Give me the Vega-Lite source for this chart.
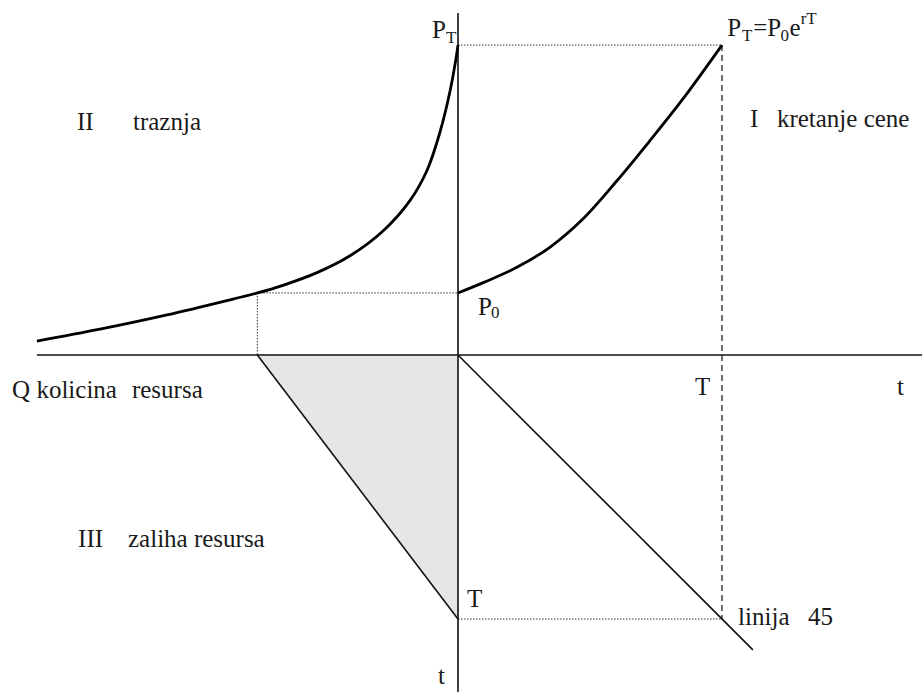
{
  "$schema": "https://vega.github.io/schema/vega-lite/v6.json",
  "width": 922,
  "height": 692,
  "autosize": {"type": "none"},
  "padding": 0,
  "background": "white",
  "config": {"view": {"stroke": null}},
  "datasets": {
    "curves": [
      {"seg": "I", "i": 0, "x": 0, "y": 2.35},
      {"seg": "I", "i": 1, "x": 0.98, "y": 2.75},
      {"seg": "I", "i": 2, "x": 2.23, "y": 3.32},
      {"seg": "I", "i": 3, "x": 3.48, "y": 4.08},
      {"seg": "I", "i": 4, "x": 4.73, "y": 5.15},
      {"seg": "I", "i": 5, "x": 6.02, "y": 6.6},
      {"seg": "I", "i": 6, "x": 7.27, "y": 8.12},
      {"seg": "I", "i": 7, "x": 8.52, "y": 9.7},
      {"seg": "I", "i": 8, "x": 10, "y": 11.74},
      {"seg": "II", "i": 0, "x": -15.95, "y": 0.53},
      {"seg": "II", "i": 1, "x": -13.56, "y": 0.98},
      {"seg": "II", "i": 2, "x": -11.02, "y": 1.52},
      {"seg": "II", "i": 3, "x": -8.52, "y": 2.12},
      {"seg": "II", "i": 4, "x": -7.6, "y": 2.35},
      {"seg": "II", "i": 5, "x": -6.63, "y": 2.64},
      {"seg": "II", "i": 6, "x": -5.34, "y": 3.12},
      {"seg": "II", "i": 7, "x": -4.09, "y": 3.76},
      {"seg": "II", "i": 8, "x": -2.84, "y": 4.7},
      {"seg": "II", "i": 9, "x": -1.82, "y": 5.85},
      {"seg": "II", "i": 10, "x": -1.17, "y": 7.0},
      {"seg": "II", "i": 11, "x": -0.68, "y": 8.45},
      {"seg": "II", "i": 12, "x": -0.3, "y": 10.0},
      {"seg": "II", "i": 13, "x": -0.08, "y": 11.2},
      {"seg": "II", "i": 14, "x": 0, "y": 11.74}
    ],
    "solid": [
      {"seg": "haxis", "i": 0, "x": -15.95, "y": 0},
      {"seg": "haxis", "i": 1, "x": 17.6, "y": 0},
      {"seg": "vaxis", "i": 0, "x": 0, "y": 12.95},
      {"seg": "vaxis", "i": 1, "x": 0, "y": -12.8},
      {"seg": "hyp", "i": 0, "x": -7.6, "y": 0},
      {"seg": "hyp", "i": 1, "x": 0, "y": -10},
      {"seg": "l45", "i": 0, "x": 0, "y": 0},
      {"seg": "l45", "i": 1, "x": 11.17, "y": -11.17}
    ],
    "dotted": [
      {"seg": "p0h", "i": 0, "x": -7.6, "y": 2.35},
      {"seg": "p0h", "i": 1, "x": 0, "y": 2.35},
      {"seg": "p0v", "i": 0, "x": -7.6, "y": 2.35},
      {"seg": "p0v", "i": 1, "x": -7.6, "y": 0},
      {"seg": "top", "i": 0, "x": 0, "y": 11.74},
      {"seg": "top", "i": 1, "x": 10, "y": 11.74},
      {"seg": "bot", "i": 0, "x": 0, "y": -10},
      {"seg": "bot", "i": 1, "x": 10, "y": -10}
    ],
    "dashed": [
      {"seg": "T", "i": 0, "x": 10, "y": 11.74},
      {"seg": "T", "i": 1, "x": 10, "y": -10}
    ],
    "shade": [
      {"x": -7.6, "y": 0, "y2": 0},
      {"x": 0, "y": -10, "y2": 0}
    ],
    "labels": [
      {"label": "P", "x": -0.98, "y": 12.01},
      {"label": "P", "x": 10.2, "y": 12.08},
      {"label": "=P", "x": 11.18, "y": 12.08},
      {"label": "e", "x": 12.56, "y": 12.08},
      {"label": "II", "x": -14.43, "y": 8.52},
      {"label": "traznja", "x": -12.31, "y": 8.52},
      {"label": "I", "x": 11.06, "y": 8.64},
      {"label": "kretanje cene", "x": 12.08, "y": 8.64},
      {"label": "P", "x": 0.76, "y": 1.52},
      {"label": "Q kolicina", "x": -16.89, "y": -1.63},
      {"label": "resursa", "x": -12.35, "y": -1.63},
      {"label": "T", "x": 8.98, "y": -1.52},
      {"label": "t", "x": 16.63, "y": -1.52},
      {"label": "III", "x": -14.39, "y": -7.27},
      {"label": "zaliha resursa", "x": -12.5, "y": -7.27},
      {"label": "T", "x": 0.34, "y": -9.55},
      {"label": "linija", "x": 10.61, "y": -10.23},
      {"label": "45", "x": 13.26, "y": -10.23},
      {"label": "t", "x": -0.76, "y": -12.45}
    ],
    "sublabels": [
      {"label": "T", "x": -0.45, "y": 11.82},
      {"label": "T", "x": 10.76, "y": 11.89},
      {"label": "0", "x": 12.22, "y": 11.89},
      {"label": "rT", "x": 12.98, "y": 12.54},
      {"label": "0", "x": 1.25, "y": 1.4}
    ]
  },
  "encoding": {
    "x": {"field": "x", "type": "quantitative", "scale": {"domain": [-17.348, 17.576], "nice": false, "zero": false}, "axis": null},
    "y": {"field": "y", "type": "quantitative", "scale": {"domain": [-12.765, 13.447], "nice": false, "zero": false}, "axis": null}
  },
  "layer": [
    {
      "data": {"name": "shade"},
      "mark": {"type": "area", "color": "#e6e6e6", "opacity": 1},
      "encoding": {"y2": {"field": "y2"}}
    },
    {
      "data": {"name": "dotted"},
      "mark": {"type": "line", "color": "#333333", "strokeWidth": 1, "strokeDash": [1.5, 1.5]},
      "encoding": {"detail": {"field": "seg"}, "order": {"field": "i"}}
    },
    {
      "data": {"name": "dashed"},
      "mark": {"type": "line", "color": "#222222", "strokeWidth": 1.3, "strokeDash": [6, 4]},
      "encoding": {"detail": {"field": "seg"}, "order": {"field": "i"}}
    },
    {
      "data": {"name": "solid"},
      "mark": {"type": "line", "color": "#111111", "strokeWidth": 1.6},
      "encoding": {"detail": {"field": "seg"}, "order": {"field": "i"}}
    },
    {
      "data": {"name": "curves"},
      "mark": {"type": "line", "color": "#000000", "strokeWidth": 2.8, "interpolate": "catmull-rom"},
      "encoding": {"detail": {"field": "seg"}, "order": {"field": "i"}}
    },
    {
      "data": {"name": "labels"},
      "mark": {"type": "text", "font": "Liberation Serif", "fontSize": 25, "color": "#1a1a1a", "align": "left", "baseline": "alphabetic"},
      "encoding": {"text": {"field": "label"}}
    },
    {
      "data": {"name": "sublabels"},
      "mark": {"type": "text", "font": "Liberation Serif", "fontSize": 17, "color": "#1a1a1a", "align": "left", "baseline": "alphabetic"},
      "encoding": {"text": {"field": "label"}}
    }
  ]
}
